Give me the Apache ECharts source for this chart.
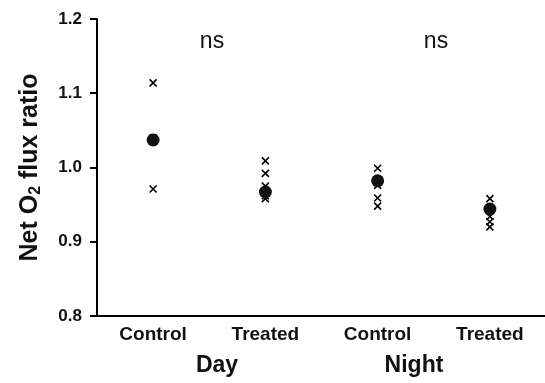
<!DOCTYPE html>
<html>
<head>
<meta charset="utf-8">
<script src="https://cdn.jsdelivr.net/npm/echarts@6/dist/echarts.min.js"></script>
<style>
  html, body { margin: 0; padding: 0; background: #fff; }
  #chart { width: 545px; height: 383px; }
</style>
</head>
<body>
<div id="chart"></div>
<script>
// categories along the x axis
var categories = ['Control', 'Treated', 'Control', 'Treated'];
var groups = ['Day', 'Night'];
var yTicks = [0.8, 0.9, 1.0, 1.1, 1.2];

// individual replicate ratios per category
var dayControl = [1.114, 1.040, 0.971];
var dayTreated = [1.009, 0.992, 0.975, 0.962, 0.958];
var nightControl = [0.999, 0.976, 0.959, 0.948];
var nightTreated = [0.958, 0.934, 0.927, 0.920];

// group means
var means = [1.037, 0.967, 0.982, 0.944];

var sigLabels = ['ns', 'ns'];

var replicates = [dayControl, dayTreated, nightControl, nightTreated];
var pointData = [];
replicates.forEach(function (vals, i) {
    vals.forEach(function (v) { pointData.push([i, v]); });
});
var meanData = means.map(function (v, i) { return [i, v]; });

var font = '"Liberation Sans", Arial, sans-serif';
var myChart = echarts.init(document.getElementById('chart'));

var option = {
    backgroundColor: '#fff',
    animation: false,
    grid: { left: 97, right: -1, top: 19, bottom: 67, outerBoundsMode: 'none', containLabel: false },
    xAxis: {
        type: 'category',
        data: categories,
        boundaryGap: true,
        axisLine: { lineStyle: { color: '#000', width: 2 } },
        axisTick: { alignWithLabel: true, length: 6, lineStyle: { color: '#000', width: 2 } },
        axisLabel: { color: '#111', fontFamily: font, fontWeight: 'bold', fontSize: 19, margin: 9 },
        splitLine: { show: false }
    },
    yAxis: {
        type: 'value',
        min: yTicks[0],
        max: yTicks[yTicks.length - 1],
        interval: 0.1,
        name: 'Net O{sub|2} flux ratio',
        nameLocation: 'middle',
        nameRotate: 90,
        nameGap: 53,
        nameMoveOverlap: false,
        nameTextStyle: {
            color: '#111', fontFamily: font, fontWeight: 'bold', fontSize: 25,
            rich: {
                sub: { fontFamily: font, fontSize: 16, padding: [12, 0, 0, 0], color: '#111' }
            }
        },
        axisLine: { show: true, lineStyle: { color: '#000', width: 2 } },
        axisTick: { show: true, length: 7, lineStyle: { color: '#000', width: 2 } },
        axisLabel: {
            color: '#111', fontFamily: font, fontWeight: 'bold', fontSize: 17, margin: 15,
            formatter: function (v) { return v.toFixed(1); }
        },
        splitLine: { show: false }
    },
    series: [
        {
            type: 'scatter',
            data: pointData,
            symbol: 'path://M0,0L10,10M10,0L0,10',
            symbolSize: 7,
            itemStyle: { color: '#000', borderColor: '#000', borderWidth: 1.6, opacity: 1 },
            z: 2
        },
        {
            type: 'scatter',
            data: meanData,
            symbol: 'circle',
            symbolSize: 13,
            itemStyle: { color: '#111', opacity: 1 },
            z: 3
        }
    ],
    graphic: [
        { type: 'text', x: 212, y: 42, style: { text: sigLabels[0], font: '23px ' + font, fill: '#111', align: 'center', verticalAlign: 'middle' } },
        { type: 'text', x: 436, y: 42, style: { text: sigLabels[1], font: '23px ' + font, fill: '#111', align: 'center', verticalAlign: 'middle' } },
        { type: 'text', x: 217, y: 366, style: { text: groups[0], font: 'bold 23px ' + font, fill: '#111', align: 'center', verticalAlign: 'middle' } },
        { type: 'text', x: 414, y: 366, style: { text: groups[1], font: 'bold 23px ' + font, fill: '#111', align: 'center', verticalAlign: 'middle' } }
    ]
};

myChart.setOption(option);
</script>
</body>
</html>
